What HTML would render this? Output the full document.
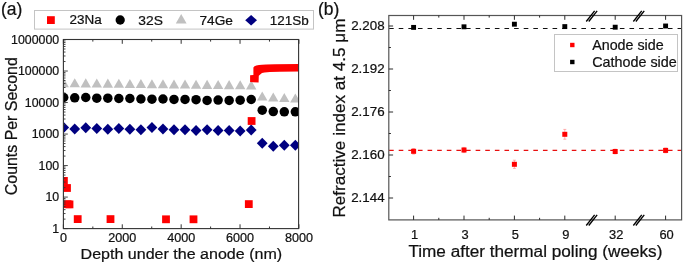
<!DOCTYPE html>
<html><head><meta charset="utf-8"><style>
html,body{margin:0;padding:0;background:#fff;width:685px;height:265px;overflow:hidden}
svg{display:block;filter:blur(0.35px);font-family:"Liberation Sans",sans-serif}
</style></head><body>
<svg width="685" height="265" viewBox="0 0 685 265" font-family="Liberation Sans, sans-serif">
<style>text{stroke:#111;stroke-width:0.22px;paint-order:fill}</style>
<rect width="685" height="265" fill="#fff"/>
<defs><clipPath id="ca"><rect x="63.4" y="39.5" width="235.20000000000002" height="189.1"/></clipPath></defs>
<g clip-path="url(#ca)">
<polygon points="63.70,78.10 58.50,87.20 68.90,87.20" fill="#c0c0c0"/>
<polygon points="74.73,78.23 69.53,87.33 79.93,87.33" fill="#c0c0c0"/>
<polygon points="85.76,78.36 80.56,87.46 90.96,87.46" fill="#c0c0c0"/>
<polygon points="96.79,78.49 91.59,87.59 101.99,87.59" fill="#c0c0c0"/>
<polygon points="107.82,78.62 102.62,87.72 113.02,87.72" fill="#c0c0c0"/>
<polygon points="118.85,78.75 113.65,87.85 124.05,87.85" fill="#c0c0c0"/>
<polygon points="129.88,78.88 124.68,87.98 135.08,87.98" fill="#c0c0c0"/>
<polygon points="140.91,79.01 135.71,88.11 146.11,88.11" fill="#c0c0c0"/>
<polygon points="151.94,79.14 146.74,88.24 157.14,88.24" fill="#c0c0c0"/>
<polygon points="162.97,79.26 157.77,88.36 168.17,88.36" fill="#c0c0c0"/>
<polygon points="174.00,79.39 168.80,88.49 179.20,88.49" fill="#c0c0c0"/>
<polygon points="185.03,79.52 179.83,88.62 190.23,88.62" fill="#c0c0c0"/>
<polygon points="196.06,79.65 190.86,88.75 201.26,88.75" fill="#c0c0c0"/>
<polygon points="207.09,79.78 201.89,88.88 212.29,88.88" fill="#c0c0c0"/>
<polygon points="218.12,79.91 212.92,89.01 223.32,89.01" fill="#c0c0c0"/>
<polygon points="229.15,80.04 223.95,89.14 234.35,89.14" fill="#c0c0c0"/>
<polygon points="240.18,80.17 234.98,89.27 245.38,89.27" fill="#c0c0c0"/>
<polygon points="251.21,80.30 246.01,89.40 256.41,89.40" fill="#c0c0c0"/>
<polygon points="262.24,91.40 257.04,100.50 267.44,100.50" fill="#c0c0c0"/>
<polygon points="273.27,92.40 268.07,101.50 278.47,101.50" fill="#c0c0c0"/>
<polygon points="284.30,92.90 279.10,102.00 289.50,102.00" fill="#c0c0c0"/>
<polygon points="295.33,93.40 290.13,102.50 300.53,102.50" fill="#c0c0c0"/>
<circle cx="63.70" cy="97.50" r="4.75" fill="#000"/>
<circle cx="74.73" cy="97.80" r="4.75" fill="#000"/>
<circle cx="85.76" cy="97.50" r="4.75" fill="#000"/>
<circle cx="96.79" cy="98.20" r="4.75" fill="#000"/>
<circle cx="107.82" cy="98.20" r="4.75" fill="#000"/>
<circle cx="118.85" cy="98.50" r="4.75" fill="#000"/>
<circle cx="129.88" cy="98.50" r="4.75" fill="#000"/>
<circle cx="140.91" cy="99.00" r="4.75" fill="#000"/>
<circle cx="151.94" cy="99.20" r="4.75" fill="#000"/>
<circle cx="162.97" cy="99.00" r="4.75" fill="#000"/>
<circle cx="174.00" cy="99.40" r="4.75" fill="#000"/>
<circle cx="185.03" cy="99.40" r="4.75" fill="#000"/>
<circle cx="196.06" cy="99.70" r="4.75" fill="#000"/>
<circle cx="207.09" cy="100.40" r="4.75" fill="#000"/>
<circle cx="218.12" cy="100.10" r="4.75" fill="#000"/>
<circle cx="229.15" cy="100.40" r="4.75" fill="#000"/>
<circle cx="240.18" cy="100.20" r="4.75" fill="#000"/>
<circle cx="251.21" cy="99.50" r="4.75" fill="#000"/>
<circle cx="262.24" cy="110.20" r="4.75" fill="#000"/>
<circle cx="273.27" cy="111.60" r="4.75" fill="#000"/>
<circle cx="284.30" cy="111.80" r="4.75" fill="#000"/>
<circle cx="295.33" cy="111.80" r="4.75" fill="#000"/>
<polygon points="63.70,122.00 69.10,127.50 63.70,133.00 58.30,127.50" fill="#000080"/>
<polygon points="74.73,123.50 80.13,129.00 74.73,134.50 69.33,129.00" fill="#000080"/>
<polygon points="85.76,122.30 91.16,127.80 85.76,133.30 80.36,127.80" fill="#000080"/>
<polygon points="96.79,123.00 102.19,128.50 96.79,134.00 91.39,128.50" fill="#000080"/>
<polygon points="107.82,123.70 113.22,129.20 107.82,134.70 102.42,129.20" fill="#000080"/>
<polygon points="118.85,123.00 124.25,128.50 118.85,134.00 113.45,128.50" fill="#000080"/>
<polygon points="129.88,123.70 135.28,129.20 129.88,134.70 124.48,129.20" fill="#000080"/>
<polygon points="140.91,124.20 146.31,129.70 140.91,135.20 135.51,129.70" fill="#000080"/>
<polygon points="151.94,122.00 157.34,127.50 151.94,133.00 146.54,127.50" fill="#000080"/>
<polygon points="162.97,123.50 168.37,129.00 162.97,134.50 157.57,129.00" fill="#000080"/>
<polygon points="174.00,124.20 179.40,129.70 174.00,135.20 168.60,129.70" fill="#000080"/>
<polygon points="185.03,124.20 190.43,129.70 185.03,135.20 179.63,129.70" fill="#000080"/>
<polygon points="196.06,124.90 201.46,130.40 196.06,135.90 190.66,130.40" fill="#000080"/>
<polygon points="207.09,124.20 212.49,129.70 207.09,135.20 201.69,129.70" fill="#000080"/>
<polygon points="218.12,124.90 223.52,130.40 218.12,135.90 212.72,130.40" fill="#000080"/>
<polygon points="229.15,124.90 234.55,130.40 229.15,135.90 223.75,130.40" fill="#000080"/>
<polygon points="240.18,125.40 245.58,130.90 240.18,136.40 234.78,130.90" fill="#000080"/>
<polygon points="251.21,124.60 256.61,130.10 251.21,135.60 245.81,130.10" fill="#000080"/>
<polygon points="262.24,137.70 267.64,143.20 262.24,148.70 256.84,143.20" fill="#000080"/>
<polygon points="273.27,140.70 278.67,146.20 273.27,151.70 267.87,146.20" fill="#000080"/>
<polygon points="284.30,139.80 289.70,145.30 284.30,150.80 278.90,145.30" fill="#000080"/>
<polygon points="295.33,139.80 300.73,145.30 295.33,150.80 289.93,145.30" fill="#000080"/>
<rect x="60.00" y="177.00" width="7.8" height="7.8" fill="#ff0000"/>
<rect x="63.10" y="184.10" width="7.8" height="7.8" fill="#ff0000"/>
<rect x="63.70" y="200.30" width="7.8" height="7.8" fill="#ff0000"/>
<rect x="65.60" y="200.50" width="7.8" height="7.8" fill="#ff0000"/>
<rect x="73.80" y="215.20" width="7.8" height="7.8" fill="#ff0000"/>
<rect x="106.60" y="215.20" width="7.8" height="7.8" fill="#ff0000"/>
<rect x="162.10" y="215.40" width="7.8" height="7.8" fill="#ff0000"/>
<rect x="189.60" y="215.40" width="7.8" height="7.8" fill="#ff0000"/>
<rect x="244.90" y="200.20" width="7.8" height="7.8" fill="#ff0000"/>
<rect x="247.70" y="117.10" width="7.8" height="7.8" fill="#ff0000"/>
<path d="M250.1,82.0 L250.1,75.3 L253.4,75.0 L253.4,67.4 L254.5,66.2 L256.3,65.4 L259,64.9 L262,64.7 L266,64.4 L275,64.2 L300,64.0 L300,71.5 L280,71.8 L270,72.0 L264.5,72.4 L262,73.0 L260.2,74.4 L258.8,75.7 L258.6,82.4 L253,82.2 Z" fill="#ff0000"/>
</g>
<rect x="63.4" y="39.5" width="235.20000000000002" height="189.1" fill="none" stroke="#333" stroke-width="1.1"/>
<line x1="63.40" y1="228.6" x2="63.40" y2="224.29999999999998" stroke="#333" stroke-width="1"/>
<line x1="63.40" y1="39.5" x2="63.40" y2="43.8" stroke="#333" stroke-width="1"/>
<line x1="92.84" y1="228.6" x2="92.84" y2="226.5" stroke="#333" stroke-width="1"/>
<line x1="92.84" y1="39.5" x2="92.84" y2="41.6" stroke="#333" stroke-width="1"/>
<line x1="122.28" y1="228.6" x2="122.28" y2="224.29999999999998" stroke="#333" stroke-width="1"/>
<line x1="122.28" y1="39.5" x2="122.28" y2="43.8" stroke="#333" stroke-width="1"/>
<line x1="151.72" y1="228.6" x2="151.72" y2="226.5" stroke="#333" stroke-width="1"/>
<line x1="151.72" y1="39.5" x2="151.72" y2="41.6" stroke="#333" stroke-width="1"/>
<line x1="181.16" y1="228.6" x2="181.16" y2="224.29999999999998" stroke="#333" stroke-width="1"/>
<line x1="181.16" y1="39.5" x2="181.16" y2="43.8" stroke="#333" stroke-width="1"/>
<line x1="210.60" y1="228.6" x2="210.60" y2="226.5" stroke="#333" stroke-width="1"/>
<line x1="210.60" y1="39.5" x2="210.60" y2="41.6" stroke="#333" stroke-width="1"/>
<line x1="240.04" y1="228.6" x2="240.04" y2="224.29999999999998" stroke="#333" stroke-width="1"/>
<line x1="240.04" y1="39.5" x2="240.04" y2="43.8" stroke="#333" stroke-width="1"/>
<line x1="269.48" y1="228.6" x2="269.48" y2="226.5" stroke="#333" stroke-width="1"/>
<line x1="269.48" y1="39.5" x2="269.48" y2="41.6" stroke="#333" stroke-width="1"/>
<line x1="298.92" y1="228.6" x2="298.92" y2="224.29999999999998" stroke="#333" stroke-width="1"/>
<line x1="298.92" y1="39.5" x2="298.92" y2="43.8" stroke="#333" stroke-width="1"/>
<line x1="63.4" y1="228.60" x2="67.8" y2="228.60" stroke="#333" stroke-width="0.9"/>
<line x1="63.4" y1="219.11" x2="65.5" y2="219.11" stroke="#333" stroke-width="0.9"/>
<line x1="63.4" y1="213.56" x2="65.5" y2="213.56" stroke="#333" stroke-width="0.9"/>
<line x1="63.4" y1="209.63" x2="65.5" y2="209.63" stroke="#333" stroke-width="0.9"/>
<line x1="63.4" y1="206.57" x2="65.5" y2="206.57" stroke="#333" stroke-width="0.9"/>
<line x1="63.4" y1="204.08" x2="65.5" y2="204.08" stroke="#333" stroke-width="0.9"/>
<line x1="63.4" y1="201.97" x2="65.5" y2="201.97" stroke="#333" stroke-width="0.9"/>
<line x1="63.4" y1="200.14" x2="65.5" y2="200.14" stroke="#333" stroke-width="0.9"/>
<line x1="63.4" y1="198.53" x2="65.5" y2="198.53" stroke="#333" stroke-width="0.9"/>
<line x1="63.4" y1="197.08" x2="67.8" y2="197.08" stroke="#333" stroke-width="0.9"/>
<line x1="63.4" y1="187.60" x2="65.5" y2="187.60" stroke="#333" stroke-width="0.9"/>
<line x1="63.4" y1="182.05" x2="65.5" y2="182.05" stroke="#333" stroke-width="0.9"/>
<line x1="63.4" y1="178.11" x2="65.5" y2="178.11" stroke="#333" stroke-width="0.9"/>
<line x1="63.4" y1="175.05" x2="65.5" y2="175.05" stroke="#333" stroke-width="0.9"/>
<line x1="63.4" y1="172.56" x2="65.5" y2="172.56" stroke="#333" stroke-width="0.9"/>
<line x1="63.4" y1="170.45" x2="65.5" y2="170.45" stroke="#333" stroke-width="0.9"/>
<line x1="63.4" y1="168.62" x2="65.5" y2="168.62" stroke="#333" stroke-width="0.9"/>
<line x1="63.4" y1="167.01" x2="65.5" y2="167.01" stroke="#333" stroke-width="0.9"/>
<line x1="63.4" y1="165.57" x2="67.8" y2="165.57" stroke="#333" stroke-width="0.9"/>
<line x1="63.4" y1="156.08" x2="65.5" y2="156.08" stroke="#333" stroke-width="0.9"/>
<line x1="63.4" y1="150.53" x2="65.5" y2="150.53" stroke="#333" stroke-width="0.9"/>
<line x1="63.4" y1="146.59" x2="65.5" y2="146.59" stroke="#333" stroke-width="0.9"/>
<line x1="63.4" y1="143.54" x2="65.5" y2="143.54" stroke="#333" stroke-width="0.9"/>
<line x1="63.4" y1="141.04" x2="65.5" y2="141.04" stroke="#333" stroke-width="0.9"/>
<line x1="63.4" y1="138.93" x2="65.5" y2="138.93" stroke="#333" stroke-width="0.9"/>
<line x1="63.4" y1="137.10" x2="65.5" y2="137.10" stroke="#333" stroke-width="0.9"/>
<line x1="63.4" y1="135.49" x2="65.5" y2="135.49" stroke="#333" stroke-width="0.9"/>
<line x1="63.4" y1="134.05" x2="67.8" y2="134.05" stroke="#333" stroke-width="0.9"/>
<line x1="63.4" y1="124.56" x2="65.5" y2="124.56" stroke="#333" stroke-width="0.9"/>
<line x1="63.4" y1="119.01" x2="65.5" y2="119.01" stroke="#333" stroke-width="0.9"/>
<line x1="63.4" y1="115.08" x2="65.5" y2="115.08" stroke="#333" stroke-width="0.9"/>
<line x1="63.4" y1="112.02" x2="65.5" y2="112.02" stroke="#333" stroke-width="0.9"/>
<line x1="63.4" y1="109.53" x2="65.5" y2="109.53" stroke="#333" stroke-width="0.9"/>
<line x1="63.4" y1="107.42" x2="65.5" y2="107.42" stroke="#333" stroke-width="0.9"/>
<line x1="63.4" y1="105.59" x2="65.5" y2="105.59" stroke="#333" stroke-width="0.9"/>
<line x1="63.4" y1="103.98" x2="65.5" y2="103.98" stroke="#333" stroke-width="0.9"/>
<line x1="63.4" y1="102.53" x2="67.8" y2="102.53" stroke="#333" stroke-width="0.9"/>
<line x1="63.4" y1="93.05" x2="65.5" y2="93.05" stroke="#333" stroke-width="0.9"/>
<line x1="63.4" y1="87.50" x2="65.5" y2="87.50" stroke="#333" stroke-width="0.9"/>
<line x1="63.4" y1="83.56" x2="65.5" y2="83.56" stroke="#333" stroke-width="0.9"/>
<line x1="63.4" y1="80.50" x2="65.5" y2="80.50" stroke="#333" stroke-width="0.9"/>
<line x1="63.4" y1="78.01" x2="65.5" y2="78.01" stroke="#333" stroke-width="0.9"/>
<line x1="63.4" y1="75.90" x2="65.5" y2="75.90" stroke="#333" stroke-width="0.9"/>
<line x1="63.4" y1="74.07" x2="65.5" y2="74.07" stroke="#333" stroke-width="0.9"/>
<line x1="63.4" y1="72.46" x2="65.5" y2="72.46" stroke="#333" stroke-width="0.9"/>
<line x1="63.4" y1="71.02" x2="67.8" y2="71.02" stroke="#333" stroke-width="0.9"/>
<line x1="63.4" y1="61.53" x2="65.5" y2="61.53" stroke="#333" stroke-width="0.9"/>
<line x1="63.4" y1="55.98" x2="65.5" y2="55.98" stroke="#333" stroke-width="0.9"/>
<line x1="63.4" y1="52.04" x2="65.5" y2="52.04" stroke="#333" stroke-width="0.9"/>
<line x1="63.4" y1="48.99" x2="65.5" y2="48.99" stroke="#333" stroke-width="0.9"/>
<line x1="63.4" y1="46.49" x2="65.5" y2="46.49" stroke="#333" stroke-width="0.9"/>
<line x1="63.4" y1="44.38" x2="65.5" y2="44.38" stroke="#333" stroke-width="0.9"/>
<line x1="63.4" y1="42.55" x2="65.5" y2="42.55" stroke="#333" stroke-width="0.9"/>
<line x1="63.4" y1="40.94" x2="65.5" y2="40.94" stroke="#333" stroke-width="0.9"/>
<text x="59.2" y="232.90" font-size="12" text-anchor="end" fill="#111" textLength="6.87" lengthAdjust="spacingAndGlyphs" >1</text>
<text x="59.2" y="201.38" font-size="12" text-anchor="end" fill="#111" textLength="13.74" lengthAdjust="spacingAndGlyphs" >10</text>
<text x="59.2" y="169.87" font-size="12" text-anchor="end" fill="#111" textLength="20.62" lengthAdjust="spacingAndGlyphs" >100</text>
<text x="59.2" y="138.35" font-size="12" text-anchor="end" fill="#111" textLength="27.49" lengthAdjust="spacingAndGlyphs" >1000</text>
<text x="59.2" y="106.83" font-size="12" text-anchor="end" fill="#111" textLength="34.36" lengthAdjust="spacingAndGlyphs" >10000</text>
<text x="59.2" y="75.32" font-size="12" text-anchor="end" fill="#111" textLength="41.23" lengthAdjust="spacingAndGlyphs" >100000</text>
<text x="59.2" y="43.80" font-size="12" text-anchor="end" fill="#111" textLength="48.11" lengthAdjust="spacingAndGlyphs" >1000000</text>
<text x="63.40" y="242.4" font-size="12" text-anchor="middle" fill="#111" textLength="7.01" lengthAdjust="spacingAndGlyphs" >0</text>
<text x="122.28" y="242.4" font-size="12" text-anchor="middle" fill="#111" textLength="28.02" lengthAdjust="spacingAndGlyphs" >2000</text>
<text x="181.16" y="242.4" font-size="12" text-anchor="middle" fill="#111" textLength="28.02" lengthAdjust="spacingAndGlyphs" >4000</text>
<text x="240.04" y="242.4" font-size="12" text-anchor="middle" fill="#111" textLength="28.02" lengthAdjust="spacingAndGlyphs" >6000</text>
<text x="298.92" y="242.4" font-size="12" text-anchor="middle" fill="#111" textLength="28.02" lengthAdjust="spacingAndGlyphs" >8000</text>
<text x="80.6" y="258.8" font-size="15.5" text-anchor="start" fill="#111" textLength="201.5" lengthAdjust="spacingAndGlyphs" >Depth under the anode (nm)</text>
<text transform="translate(17.1,195.2) rotate(-90)" font-size="15.8" fill="#111" textLength="138" lengthAdjust="spacingAndGlyphs">Counts Per Second</text>
<text x="1.0" y="15.0" font-size="17.5" text-anchor="start" fill="#111" >(a)</text>
<rect x="34.5" y="10.5" width="279" height="18.6" fill="#fff" stroke="#c4c4c4" stroke-width="1"/>
<rect x="47" y="16.2" width="7.8" height="7.8" fill="#ff0000"/>
<text x="69.5" y="24.4" font-size="12.8" text-anchor="start" fill="#111" textLength="32.2" lengthAdjust="spacingAndGlyphs" >23Na</text>
<circle cx="120.2" cy="20" r="4.65" fill="#000"/>
<text x="138.3" y="24.7" font-size="12.5" text-anchor="start" fill="#111" textLength="24.6" lengthAdjust="spacingAndGlyphs" >32S</text>
<polygon points="181.2,13.9 175.8,23.4 186.6,23.4" fill="#c0c0c0"/>
<text x="199.5" y="24.7" font-size="12.5" text-anchor="start" fill="#111" textLength="33.5" lengthAdjust="spacingAndGlyphs" >74Ge</text>
<polygon points="251.1,15 257,20.2 251.1,25.4 245.2,20.2" fill="#000080"/>
<text x="269.8" y="24.7" font-size="12.5" text-anchor="start" fill="#111" textLength="39" lengthAdjust="spacingAndGlyphs" >121Sb</text>
<line x1="389.1" y1="28.5" x2="681.6" y2="28.5" stroke="#111" stroke-width="1.1" stroke-dasharray="4.6 5.015"/>
<line x1="389.1" y1="150.3" x2="681.6" y2="150.3" stroke="#e81010" stroke-width="1.15" stroke-dasharray="4.6 5.015"/>
<rect x="388.8" y="15.5" width="292.8" height="204.4" fill="none" stroke="#555" stroke-width="1.2"/>
<line x1="413.60" y1="219.9" x2="413.60" y2="215.6" stroke="#2a2a2a" stroke-width="1"/>
<line x1="413.60" y1="15.5" x2="413.60" y2="19.8" stroke="#2a2a2a" stroke-width="1"/>
<line x1="438.80" y1="219.9" x2="438.80" y2="217.8" stroke="#2a2a2a" stroke-width="1"/>
<line x1="438.80" y1="15.5" x2="438.80" y2="17.6" stroke="#2a2a2a" stroke-width="1"/>
<line x1="464.00" y1="219.9" x2="464.00" y2="215.6" stroke="#2a2a2a" stroke-width="1"/>
<line x1="464.00" y1="15.5" x2="464.00" y2="19.8" stroke="#2a2a2a" stroke-width="1"/>
<line x1="489.20" y1="219.9" x2="489.20" y2="217.8" stroke="#2a2a2a" stroke-width="1"/>
<line x1="489.20" y1="15.5" x2="489.20" y2="17.6" stroke="#2a2a2a" stroke-width="1"/>
<line x1="514.40" y1="219.9" x2="514.40" y2="215.6" stroke="#2a2a2a" stroke-width="1"/>
<line x1="514.40" y1="15.5" x2="514.40" y2="19.8" stroke="#2a2a2a" stroke-width="1"/>
<line x1="539.60" y1="219.9" x2="539.60" y2="217.8" stroke="#2a2a2a" stroke-width="1"/>
<line x1="539.60" y1="15.5" x2="539.60" y2="17.6" stroke="#2a2a2a" stroke-width="1"/>
<line x1="564.80" y1="219.9" x2="564.80" y2="215.6" stroke="#2a2a2a" stroke-width="1"/>
<line x1="564.80" y1="15.5" x2="564.80" y2="19.8" stroke="#2a2a2a" stroke-width="1"/>
<line x1="615.20" y1="219.9" x2="615.20" y2="215.6" stroke="#2a2a2a" stroke-width="1"/>
<line x1="615.20" y1="15.5" x2="615.20" y2="19.8" stroke="#2a2a2a" stroke-width="1"/>
<line x1="665.60" y1="219.9" x2="665.60" y2="215.6" stroke="#2a2a2a" stroke-width="1"/>
<line x1="665.60" y1="15.5" x2="665.60" y2="19.8" stroke="#2a2a2a" stroke-width="1"/>
<line x1="586.25" y1="21.50" x2="594.65" y2="10.90" stroke="#000" stroke-width="1.35"/>
<line x1="588.75" y1="21.50" x2="597.15" y2="10.90" stroke="#000" stroke-width="1.35"/>
<line x1="586.25" y1="225.50" x2="594.65" y2="214.90" stroke="#000" stroke-width="1.35"/>
<line x1="588.75" y1="225.50" x2="597.15" y2="214.90" stroke="#000" stroke-width="1.35"/>
<line x1="633.35" y1="21.50" x2="641.75" y2="10.90" stroke="#000" stroke-width="1.35"/>
<line x1="635.85" y1="21.50" x2="644.25" y2="10.90" stroke="#000" stroke-width="1.35"/>
<line x1="633.35" y1="225.50" x2="641.75" y2="214.90" stroke="#000" stroke-width="1.35"/>
<line x1="635.85" y1="225.50" x2="644.25" y2="214.90" stroke="#000" stroke-width="1.35"/>
<line x1="388.8" y1="26.00" x2="393.1" y2="26.00" stroke="#2a2a2a" stroke-width="1"/>
<line x1="388.8" y1="47.50" x2="390.90000000000003" y2="47.50" stroke="#2a2a2a" stroke-width="1"/>
<line x1="388.8" y1="69.00" x2="393.1" y2="69.00" stroke="#2a2a2a" stroke-width="1"/>
<line x1="388.8" y1="90.50" x2="390.90000000000003" y2="90.50" stroke="#2a2a2a" stroke-width="1"/>
<line x1="388.8" y1="112.00" x2="393.1" y2="112.00" stroke="#2a2a2a" stroke-width="1"/>
<line x1="388.8" y1="133.50" x2="390.90000000000003" y2="133.50" stroke="#2a2a2a" stroke-width="1"/>
<line x1="388.8" y1="155.00" x2="393.1" y2="155.00" stroke="#2a2a2a" stroke-width="1"/>
<line x1="388.8" y1="176.50" x2="390.90000000000003" y2="176.50" stroke="#2a2a2a" stroke-width="1"/>
<line x1="388.8" y1="198.00" x2="393.1" y2="198.00" stroke="#2a2a2a" stroke-width="1"/>
<text x="384.6" y="29.80" font-size="12.5" text-anchor="end" fill="#111" textLength="33.4" lengthAdjust="spacingAndGlyphs" >2.208</text>
<text x="384.6" y="72.80" font-size="12.5" text-anchor="end" fill="#111" textLength="33.4" lengthAdjust="spacingAndGlyphs" >2.192</text>
<text x="384.6" y="115.80" font-size="12.5" text-anchor="end" fill="#111" textLength="33.4" lengthAdjust="spacingAndGlyphs" >2.176</text>
<text x="384.6" y="158.80" font-size="12.5" text-anchor="end" fill="#111" textLength="33.4" lengthAdjust="spacingAndGlyphs" >2.160</text>
<text x="384.6" y="201.80" font-size="12.5" text-anchor="end" fill="#111" textLength="33.4" lengthAdjust="spacingAndGlyphs" >2.144</text>
<text x="414.60" y="239.1" font-size="12.5" text-anchor="middle" fill="#111" textLength="7.16" lengthAdjust="spacingAndGlyphs" >1</text>
<text x="465.00" y="239.1" font-size="12.5" text-anchor="middle" fill="#111" textLength="7.16" lengthAdjust="spacingAndGlyphs" >3</text>
<text x="515.40" y="239.1" font-size="12.5" text-anchor="middle" fill="#111" textLength="7.16" lengthAdjust="spacingAndGlyphs" >5</text>
<text x="565.80" y="239.1" font-size="12.5" text-anchor="middle" fill="#111" textLength="7.16" lengthAdjust="spacingAndGlyphs" >9</text>
<text x="616.20" y="239.1" font-size="12.5" text-anchor="middle" fill="#111" textLength="14.32" lengthAdjust="spacingAndGlyphs" >32</text>
<text x="666.60" y="239.1" font-size="12.5" text-anchor="middle" fill="#111" textLength="14.32" lengthAdjust="spacingAndGlyphs" >60</text>
<text x="408.4" y="256.5" font-size="16" text-anchor="start" fill="#111" textLength="254" lengthAdjust="spacingAndGlyphs" >Time after thermal poling (weeks)</text>
<text transform="translate(344.8,217.6) rotate(-90)" font-size="15.8" fill="#111" textLength="199" lengthAdjust="spacingAndGlyphs">Refractive index at 4.5 μm</text>
<text x="318" y="15.0" font-size="17.5" text-anchor="start" fill="#111" >(b)</text>
<rect x="411.15" y="24.95" width="4.9" height="4.9" fill="#000"/>
<rect x="461.55" y="24.35" width="4.9" height="4.9" fill="#000"/>
<rect x="511.95" y="21.75" width="4.9" height="4.9" fill="#000"/>
<rect x="562.35" y="24.15" width="4.9" height="4.9" fill="#000"/>
<rect x="612.75" y="24.75" width="4.9" height="4.9" fill="#000"/>
<rect x="663.15" y="23.55" width="4.9" height="4.9" fill="#000"/>
<line x1="413.60" y1="148.50" x2="413.60" y2="154.10" stroke="#ff8080" stroke-width="0.6"/>
<line x1="412.10" y1="148.50" x2="415.10" y2="148.50" stroke="#ff8080" stroke-width="0.6"/>
<line x1="412.10" y1="154.10" x2="415.10" y2="154.10" stroke="#ff8080" stroke-width="0.6"/>
<rect x="411.10" y="148.80" width="5" height="5" fill="#ff0000"/>
<line x1="464.00" y1="147.40" x2="464.00" y2="152.60" stroke="#ff8080" stroke-width="0.6"/>
<line x1="462.50" y1="147.40" x2="465.50" y2="147.40" stroke="#ff8080" stroke-width="0.6"/>
<line x1="462.50" y1="152.60" x2="465.50" y2="152.60" stroke="#ff8080" stroke-width="0.6"/>
<rect x="461.50" y="147.50" width="5" height="5" fill="#ff0000"/>
<line x1="514.40" y1="160.20" x2="514.40" y2="168.40" stroke="#ff8080" stroke-width="0.6"/>
<line x1="512.90" y1="160.20" x2="515.90" y2="160.20" stroke="#ff8080" stroke-width="0.6"/>
<line x1="512.90" y1="168.40" x2="515.90" y2="168.40" stroke="#ff8080" stroke-width="0.6"/>
<rect x="511.90" y="161.80" width="5" height="5" fill="#ff0000"/>
<line x1="564.80" y1="129.40" x2="564.80" y2="139.20" stroke="#ff8080" stroke-width="0.6"/>
<line x1="563.30" y1="129.40" x2="566.30" y2="129.40" stroke="#ff8080" stroke-width="0.6"/>
<line x1="563.30" y1="139.20" x2="566.30" y2="139.20" stroke="#ff8080" stroke-width="0.6"/>
<rect x="562.30" y="131.80" width="5" height="5" fill="#ff0000"/>
<line x1="615.20" y1="149.10" x2="615.20" y2="153.90" stroke="#ff8080" stroke-width="0.6"/>
<line x1="613.70" y1="149.10" x2="616.70" y2="149.10" stroke="#ff8080" stroke-width="0.6"/>
<line x1="613.70" y1="153.90" x2="616.70" y2="153.90" stroke="#ff8080" stroke-width="0.6"/>
<rect x="612.70" y="149.00" width="5" height="5" fill="#ff0000"/>
<line x1="665.60" y1="148.00" x2="665.60" y2="152.80" stroke="#ff8080" stroke-width="0.6"/>
<line x1="664.10" y1="148.00" x2="667.10" y2="148.00" stroke="#ff8080" stroke-width="0.6"/>
<line x1="664.10" y1="152.80" x2="667.10" y2="152.80" stroke="#ff8080" stroke-width="0.6"/>
<rect x="663.10" y="147.90" width="5" height="5" fill="#ff0000"/>
<rect x="554.5" y="34.5" width="123" height="37" fill="#fff" stroke="#c4c4c4" stroke-width="1"/>
<rect x="570.1" y="42.8" width="4.4" height="4.4" fill="#ff0000"/>
<rect x="570.1" y="59.8" width="4.4" height="4.4" fill="#000"/>
<text x="592.2" y="49.6" font-size="14.5" text-anchor="start" fill="#111" textLength="71.5" lengthAdjust="spacingAndGlyphs" >Anode side</text>
<text x="592.2" y="66.9" font-size="14.5" text-anchor="start" fill="#111" textLength="84.5" lengthAdjust="spacingAndGlyphs" >Cathode side</text>
</svg>
</body></html>
